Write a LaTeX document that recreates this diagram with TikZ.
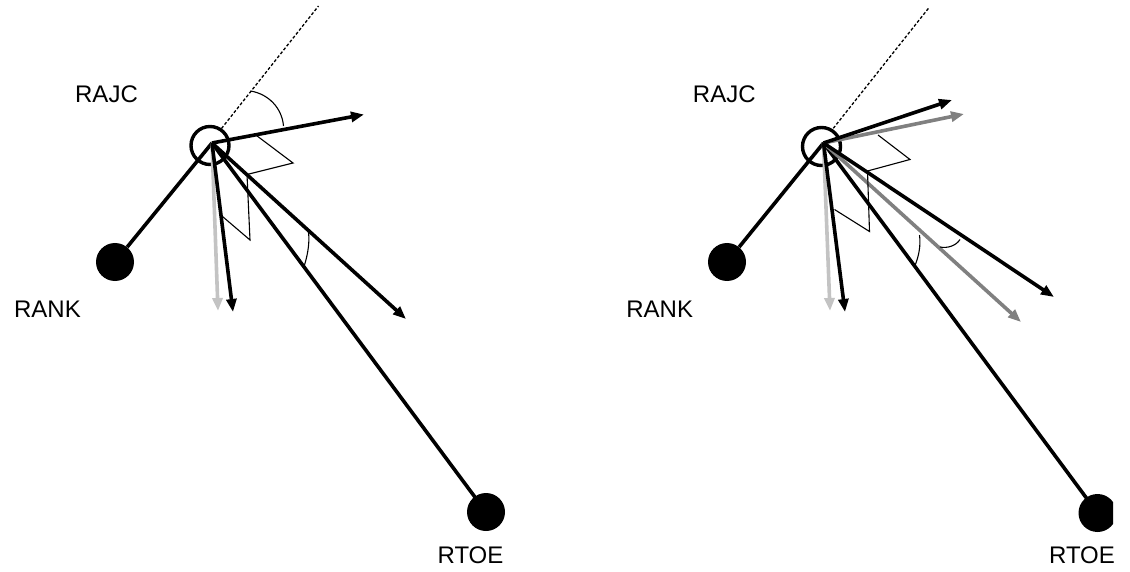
\documentclass[tikz,border=0pt]{standalone}
\usepackage{fontspec}
\setmainfont{Liberation Sans}
\usetikzlibrary{arrows.meta}
\definecolor{lgray}{RGB}{195,195,195}
\definecolor{mgray}{RGB}{128,128,128}
\tikzset{
 seg/.style={line width=3.6pt},
 vec/.style={line width=3.6pt,-{Triangle[length=13pt,width=10pt]}},
 thinln/.style={line width=1.1pt},
 dot/.style={circle,fill=black,inner sep=0pt,minimum size=38pt},
 jc/.style={circle,draw=black,line width=3.4pt,inner sep=0pt,minimum size=38pt},
 lbl/.style={font=\fontsize{24}{27}\selectfont,inner sep=0pt},
 axisln/.style={line width=1.3pt,dash pattern=on 3pt off 2pt}
}
\begin{document}
\begin{tikzpicture}[x=1pt,y=-1pt]
\useasboundingbox (0,0) rectangle (1130,572);
\begin{scope}
\clip (0,0) rectangle (1113,572);
% ---------------- left panel ----------------
\node[jc] (jcA) at (210,145.5) {};
\coordinate (oA) at (212,143);
\node[dot] (rankA) at (115,262) {};
\node[dot] (rtoeA) at (486,512) {};
\coordinate (dbA) at (221.5,128.5);
\coordinate (dtA) at (318.5,6);
\coordinate (a1A) at (364,114.5);
\coordinate (a2A) at (218,311);
\coordinate (a3A) at (233,312);
\coordinate (a4A) at (406,319);
\draw[axisln] (dbA) -- (dtA);
\draw[seg] (rankA) -- (oA);
\draw[seg] (oA) -- (rtoeA.center);
\draw[vec,lgray] (oA) -- (a2A);
\draw[vec] (oA) -- (a1A);
\draw[vec] (oA) -- (a3A);
\draw[vec] (oA) -- (a4A);
\coordinate (m1A) at (256.5,135.5);
\coordinate (m2A) at (293,163);
\coordinate (m3A) at (247,174.5);
\coordinate (m4A) at (250,240);
\coordinate (m5A) at (222.5,216.5);
\draw[thinln] (m1A) -- (m2A) -- (m3A);
\draw[thinln] (m3A) -- (m4A) -- (m5A);
\coordinate (t1A) at (250.5,91);
\coordinate (t2A) at (283.5,126);
\draw[thinln] (t1A) .. controls (268.5,94) and (282,108) .. (t2A);
\coordinate (b1A) at (308.5,232);
\coordinate (b2A) at (303.5,268);
\draw[thinln] (b1A) .. controls (310,244) and (307,258) .. (b2A);
\node[lbl] (lrajcA) at (106.5,94) {RAJC};
\node[lbl] (lrankA) at (47.5,309) {RANK};
\node[lbl] (lrtoeA) at (470.5,555.5) {RTOE};
% ---------------- right panel ----------------
\node[jc] (jcB) at (821.5,146.5) {};
\coordinate (oB) at (823.5,143);
\node[dot] (rankB) at (727,262) {};
\node[dot] (rtoeB) at (1097.5,513) {};
\coordinate (dbB) at (833.3,128.3);
\coordinate (dtB) at (929.5,7);
\coordinate (u1B) at (952,100);
\coordinate (u2B) at (964,114);
\coordinate (d1B) at (830,311);
\coordinate (d2B) at (845,312);
\coordinate (g1B) at (1021,322);
\coordinate (k1B) at (1054,297);
\draw[axisln] (dbB) -- (dtB);
\draw[seg] (rankB) -- (oB);
\draw[seg] (oB) -- (rtoeB.center);
\draw[vec,lgray] (oB) -- (d1B);
\draw[vec,mgray] (oB) -- (u2B);
\draw[vec,mgray] (oB) -- (g1B);
\draw[vec] (oB) -- (u1B);
\draw[vec] (oB) -- (d2B);
\draw[vec] (oB) -- (k1B);
\coordinate (m1B) at (878,135);
\coordinate (m2B) at (910,159.5);
\coordinate (m3B) at (867.5,171);
\coordinate (m4B) at (869.5,231.5);
\coordinate (m5B) at (834.5,209.5);
\draw[thinln] (m1B) -- (m2B) -- (m3B);
\draw[thinln] (m3B) -- (m4B) -- (m5B);
\coordinate (b1B) at (919.5,235);
\coordinate (b2B) at (915,265.5);
\draw[thinln] (b1B) .. controls (921,246) and (918.5,257) .. (b2B);
\coordinate (c1B) at (940,247);
\coordinate (c2B) at (960,239.5);
\draw[thinln] (c1B) .. controls (947,248.5) and (956,246) .. (c2B);
\node[lbl] (lrajcB) at (724.3,94) {RAJC};
\node[lbl] (lrankB) at (659.7,309) {RANK};
\node[lbl] (lrtoeB) at (1082,555.5) {RTOE};
\end{scope}
\end{tikzpicture}
\end{document}
